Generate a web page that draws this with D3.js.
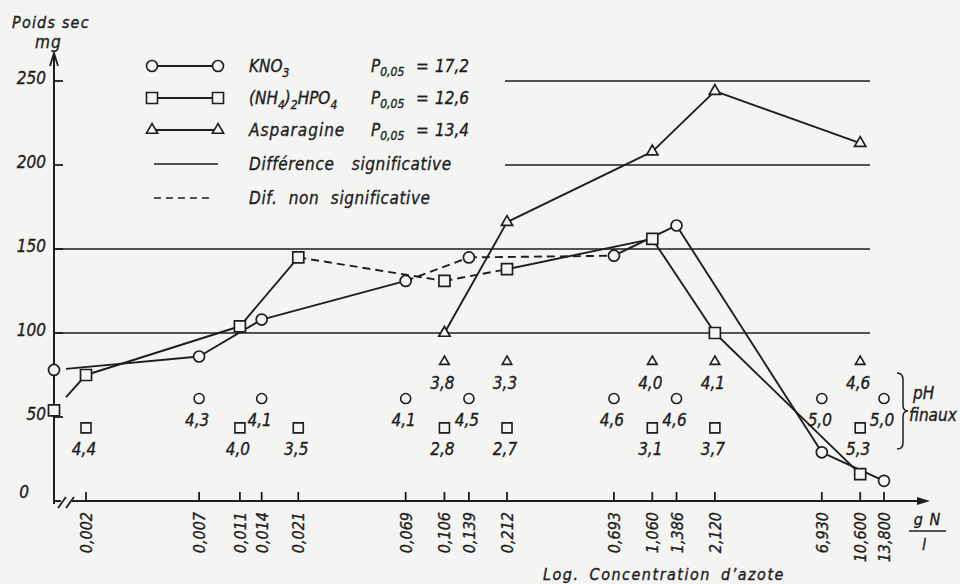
<!DOCTYPE html>
<html>
<head>
<meta charset="utf-8">
<script src="https://cdn.jsdelivr.net/npm/d3@7"></script>
<style>
  body { margin: 0; background: #f4f4f2; }
  svg text { font-family: "DejaVu Sans Condensed", "DejaVu Sans", sans-serif; font-style: italic; fill: #1e1e1e; stroke: #1e1e1e; stroke-width: 0.35px; }
</style>
</head>
<body>
<svg id="chart" width="960" height="584"></svg>
<script>
// concentrations on the x axis (g N / l)
var concentrations = [0.002, 0.007, 0.011, 0.014, 0.021, 0.069, 0.106, 0.139, 0.212, 0.693, 1.060, 1.386, 2.120, 6.930, 10.600, 13.800];
var concLabels = ["0,002", "0,007", "0,011", "0,014", "0,021", "0,069", "0,106", "0,139", "0,212", "0,693", "1,060", "1,386", "2,120", "6,930", "10,600", "13,800"];
var yTicks = [0, 50, 100, 150, 200, 250];
var refLines = [100, 150, 200, 250];

// dry weight (mg); control (no nitrogen) is drawn on the y axis
var kno3Control = 78;
var kno3Conc = [0.007, 0.014, 0.069, 0.139, 0.693, 1.386, 6.930, 13.800];
var kno3Weight = [86, 108, 131, 145, 146, 164, 29, 12];
var kno3Dashed = [false, false, false, true, true, false, false, false];

var nhControl = 54;
var nhConc = [0.002, 0.011, 0.021, 0.106, 0.212, 1.060, 2.120, 10.600];
var nhWeight = [75, 104, 145, 131, 138, 156, 100, 16];
var nhDashed = [false, false, false, true, true, false, false, false];

var aspConc = [0.106, 0.212, 1.060, 2.120, 10.600];
var aspWeight = [100, 166, 208, 244, 213];

// final pH values
var kno3PhConc = [0.007, 0.014, 0.069, 0.139, 0.693, 1.386, 6.930, 13.800];
var kno3Ph = ["4,3", "4,1", "4,1", "4,5", "4,6", "4,6", "5,0", "5,0"];
var nhPhConc = [0.002, 0.011, 0.021, 0.106, 0.212, 1.060, 2.120, 10.600];
var nhPh = ["4,4", "4,0", "3,5", "2,8", "2,7", "3,1", "3,7", "5,3"];
var aspPhConc = [0.106, 0.212, 1.060, 2.120, 10.600];
var aspPh = ["3,8", "3,3", "4,0", "4,1", "4,6"];

var legendNames = [[["KNO", 0], ["3", 1]],
                   [["(NH", 0], ["4", 1], [")", 0], ["2", 1], ["HPO", 0], ["4", 1]],
                   [["Asparagine", 0]]];
var pValues = ["17,2", "12,6", "13,4"];

var ink = "#1e1e1e", paper = "#f4f4f2";
var svg = d3.select("#chart");
var axisX = 54, axisY = 501;

var x = d3.scaleLog().domain([0.002, 13.8]).range([86, 884]);
var y = d3.scaleLinear().domain([0, 250]).range([axisY, 81]);

var sym = {
  circle: d3.symbol(d3.symbolCircle, 95),
  square: d3.symbol(d3.symbolSquare, 121),
  triangle: d3.symbol(d3.symbolTriangle, 55)
};

// reference lines
refLines.forEach(function(v) {
  svg.append("line")
    .attr("x1", v > 150 ? 505 : axisX).attr("x2", 870)
    .attr("y1", y(v)).attr("y2", y(v))
    .attr("stroke", ink).attr("stroke-width", 1.6);
});

// y axis with arrow
svg.append("line").attr("x1", axisX).attr("x2", axisX).attr("y1", axisY + 3).attr("y2", 56)
  .attr("stroke", ink).attr("stroke-width", 2);
svg.append("path").attr("d", "M" + (axisX - 4) + ",66 L" + axisX + ",53 L" + (axisX + 4) + ",66")
  .attr("fill", "none").attr("stroke", ink).attr("stroke-width", 1.8);

yTicks.forEach(function(v) {
  if (v > 0) {
    svg.append("line").attr("x1", axisX).attr("x2", axisX + 9).attr("y1", y(v)).attr("y2", y(v))
      .attr("stroke", ink).attr("stroke-width", 1.8);
  }
  svg.append("text")
    .attr("x", v === 0 ? 29 : axisX - 8)
    .attr("y", y(v) + (v === 0 ? -3 : 3))
    .attr("text-anchor", "end")
    .style("font-size", "17px")
    .text(v);
});

svg.append("text").attr("x", 12).attr("y", 28).style("font-size", "16px").style("letter-spacing", "1.2px").text("Poids sec");
svg.append("text").attr("x", 35).attr("y", 48).style("font-size", "17px").style("letter-spacing", "1px").text("mg");

// x axis with break and arrow
svg.append("line").attr("x1", axisX).attr("x2", 61).attr("y1", axisY).attr("y2", axisY)
  .attr("stroke", ink).attr("stroke-width", 2);
svg.append("line").attr("x1", 72).attr("x2", 924).attr("y1", axisY).attr("y2", axisY)
  .attr("stroke", ink).attr("stroke-width", 2);
[58, 66].forEach(function(bx) {
  svg.append("line").attr("x1", bx).attr("x2", bx + 8).attr("y1", axisY + 7).attr("y2", axisY - 4)
    .attr("stroke", ink).attr("stroke-width", 1.8);
});
svg.append("path").attr("d", "M917,497 L930,501 L917,505 Z").attr("fill", ink);

concentrations.forEach(function(c, i) {
  svg.append("line").attr("x1", x(c)).attr("x2", x(c)).attr("y1", axisY).attr("y2", axisY - 9)
    .attr("stroke", ink).attr("stroke-width", 1.8);
  svg.append("text")
    .attr("transform", "translate(" + (x(c) + 6) + ",512) rotate(-90)")
    .attr("text-anchor", "end")
    .style("font-size", "16px")
    .text(concLabels[i]);
});

svg.append("text").attr("x", 927).attr("y", 525).attr("text-anchor", "middle").style("font-size", "16px").style("word-spacing", "2px").text("g N");
svg.append("line").attr("x1", 909).attr("x2", 946).attr("y1", 531).attr("y2", 531).attr("stroke", ink).attr("stroke-width", 1.6);
svg.append("text").attr("x", 924).attr("y", 550).attr("text-anchor", "middle").style("font-size", "16px").text("l");
svg.append("text").attr("x", 543).attr("y", 580).style("font-size", "16px").style("letter-spacing", "1.5px").style("word-spacing", "4px")
  .text("Log. Concentration d\u2019azote");

// data lines
function drawSeries(conc, weight, dashed, control, shape) {
  var pts = conc.map(function(c, i) { return [x(c), y(weight[i])]; });
  if (control !== null) {
    // line from the control value, interrupted at the axis break
    var c0 = [axisX, y(control)], p1 = pts[0];
    var t = (66 - c0[0]) / (p1[0] - c0[0]);
    svg.append("line")
      .attr("x1", 66).attr("y1", c0[1] + t * (p1[1] - c0[1]))
      .attr("x2", p1[0]).attr("y2", p1[1])
      .attr("stroke", ink).attr("stroke-width", 1.9);
  }
  for (var i = 1; i < pts.length; i++) {
    svg.append("line")
      .attr("x1", pts[i - 1][0]).attr("y1", pts[i - 1][1])
      .attr("x2", pts[i][0]).attr("y2", pts[i][1])
      .attr("stroke", ink).attr("stroke-width", 1.9)
      .attr("stroke-dasharray", dashed[i] ? "8,5" : null);
  }
  if (control !== null) pts.unshift([axisX, y(control)]);
  svg.selectAll(null).data(pts).enter().append("path")
    .attr("d", sym[shape])
    .attr("transform", function(d) { return "translate(" + d[0] + "," + d[1] + ")"; })
    .attr("fill", paper).attr("stroke", ink).attr("stroke-width", 1.7);
}

drawSeries(kno3Conc, kno3Weight, kno3Dashed, kno3Control, "circle");
drawSeries(aspConc, aspWeight, [false, false, false, false, false], null, "triangle");
drawSeries(nhConc, nhWeight, nhDashed, nhControl, "square");

// final pH markers and labels
function drawPh(conc, labels, level, shape, small) {
  var g = svg.append("g");
  conc.forEach(function(c, i) {
    g.append("path")
      .attr("d", d3.symbol(shape, small))
      .attr("transform", "translate(" + x(c) + "," + y(level) + ")")
      .attr("fill", paper).attr("stroke", ink).attr("stroke-width", 1.6);
    g.append("text")
      .attr("x", x(c) - 2).attr("y", y(level) + 27)
      .attr("text-anchor", "middle")
      .style("font-size", "17px")
      .text(labels[i]);
  });
}
drawPh(aspPhConc, aspPh, 83, d3.symbolTriangle, 40);
drawPh(kno3PhConc, kno3Ph, 61, d3.symbolCircle, 80);
drawPh(nhPhConc, nhPh, 43.5, d3.symbolSquare, 100);

// brace
svg.append("path")
  .attr("d", "M897,373 Q903,373 903,380 L903,405 Q903,411 908,411 Q903,411 903,417 L903,443 Q903,449 897,449")
  .attr("fill", "none").attr("stroke", ink).attr("stroke-width", 1.5);
svg.append("text").attr("x", 913).attr("y", 399).style("font-size", "17px").text("pH");
svg.append("text").attr("x", 909).attr("y", 421).style("font-size", "17px").text("finaux");

// legend
var legendRows = [66, 98, 130];
var legendShapes = ["circle", "square", "triangle"];
legendRows.forEach(function(ly, i) {
  svg.append("line").attr("x1", 152).attr("x2", 218).attr("y1", ly).attr("y2", ly)
    .attr("stroke", ink).attr("stroke-width", 1.8);
  [152, 218].forEach(function(lx) {
    svg.append("path").attr("d", sym[legendShapes[i]]())
      .attr("transform", "translate(" + lx + "," + ly + ")")
      .attr("fill", paper).attr("stroke", ink).attr("stroke-width", 1.6);
  });

  var t = svg.append("text").attr("x", 249).attr("y", ly + 6).style("font-size", "17px");
  var shift = 0;
  legendNames[i].forEach(function(p) {
    var dy = (p[1] ? 5 : 0) - shift;
    shift = p[1] ? 5 : 0;
    t.append("tspan").attr("dy", dy).style("font-size", p[1] ? "12px" : null).text(p[0]);
  });
  if (i === 2) t.style("letter-spacing", "1px");

  var pt = svg.append("text").attr("x", 371).attr("y", ly + 6).style("font-size", "17px");
  pt.append("tspan").text("P");
  pt.append("tspan").attr("dy", 4).style("font-size", "12px").text("0,05");
  pt.append("tspan").attr("x", 416).attr("dy", -4).text("=");
  pt.append("tspan").attr("x", 435).text(pValues[i]);
});

svg.append("line").attr("x1", 154).attr("x2", 218).attr("y1", 164).attr("y2", 164)
  .attr("stroke", ink).attr("stroke-width", 1.6);
svg.append("text").attr("x", 249).attr("y", 170).style("font-size", "17px").style("letter-spacing", "0.6px").style("word-spacing", "12px")
  .text("Différence significative");
svg.append("line").attr("x1", 154).attr("x2", 213).attr("y1", 198).attr("y2", 198)
  .attr("stroke", ink).attr("stroke-width", 1.6).attr("stroke-dasharray", "7,5");
svg.append("text").attr("x", 249).attr("y", 204).style("font-size", "17px").style("letter-spacing", "0.6px").style("word-spacing", "6px")
  .text("Dif. non significative");
</script>
</body>
</html>
